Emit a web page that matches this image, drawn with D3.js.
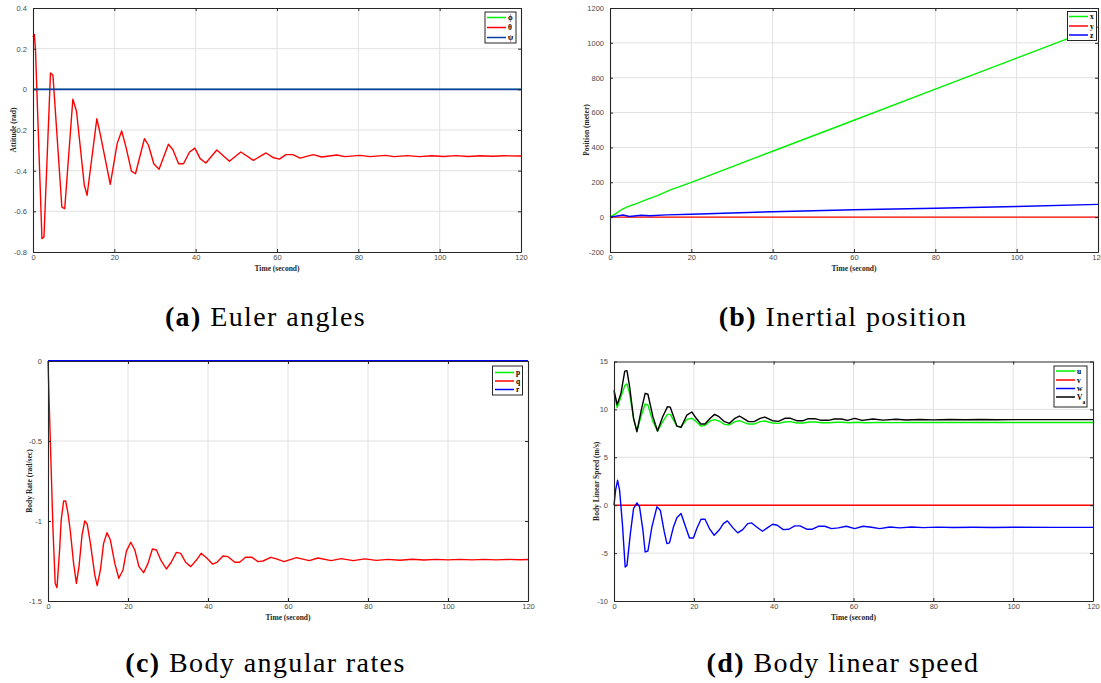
<!DOCTYPE html>
<html>
<head>
<meta charset="utf-8">
<script src="https://cdn.jsdelivr.net/npm/d3@7"></script>
<style>
  body { margin: 0; background: #fff; }
  svg { display: block; }
  .serif { font-family: "Liberation Serif", "DejaVu Serif", serif; }
  .sans { font-family: "Liberation Sans", "DejaVu Sans", sans-serif; }
</style>
</head>
<body>
<svg id="fig" width="1101" height="683"></svg>
<script>
// ---- shared time axis ----
const xTicks = [0, 20, 40, 60, 80, 100, 120];
const xTickLabels = ["0", "20", "40", "60", "80", "100", "120"];

// ---- (a) Euler angles: [time, rad] ----
const attitudeTicks = [-0.8, -0.6, -0.4, -0.2, 0, 0.2, 0.4];
const attitudeTickLabels = ["-0.8", "-0.6", "-0.4", "-0.2", "0", "0.2", "0.4"];
const phiPoints = [[0, 0], [120, 0]];
const psiPoints = [[0, 0], [120, 0]];
const thetaPoints = [
  [0, 0.257], [0.33, 0.27], [0.6, 0.2], [2.2, -0.734], [2.7, -0.726], [4.3, 0.08], [4.9, 0.069],
  [7.1, -0.579], [7.8, -0.587], [9.8, -0.049], [10.7, -0.108], [12.6, -0.469], [13.3, -0.521],
  [15.7, -0.144], [16.6, -0.226], [19.0, -0.467], [20.7, -0.267], [21.8, -0.205], [22.9, -0.287],
  [24.2, -0.402], [25.2, -0.415], [27.4, -0.243], [28.4, -0.275], [29.7, -0.366], [31.0, -0.393],
  [33.3, -0.270], [34.4, -0.297], [35.8, -0.366], [37.0, -0.366], [38.5, -0.308], [39.8, -0.289],
  [41.1, -0.341], [42.5, -0.362], [45.2, -0.298], [48.3, -0.354], [51.1, -0.308], [54.2, -0.349],
  [57.3, -0.313], [59.0, -0.335], [60.6, -0.343], [62.2, -0.321], [63.9, -0.321], [65.7, -0.338],
  [68.9, -0.321], [71.0, -0.333], [74.7, -0.323], [76.7, -0.331], [80.4, -0.325], [82.9, -0.331],
  [86.6, -0.325], [88.8, -0.331], [92, -0.326], [95, -0.331], [98, -0.327], [101, -0.330],
  [104, -0.326], [107, -0.330], [110, -0.327], [113, -0.329], [116, -0.327], [120, -0.328]
];

// ---- (b) Inertial position: [time, meter] ----
const positionTicks = [-200, 0, 200, 400, 600, 800, 1000, 1200];
const positionTickLabels = ["-200", "0", "200", "400", "600", "800", "1000", "1200"];
const posXPoints = [
  [0, 0], [1.6, 23], [3.2, 48], [4.4, 60], [6.5, 78], [9.3, 103], [11.8, 125], [14.7, 155],
  [20, 199], [40, 378], [60, 556], [80, 734], [100, 912], [120, 1090]
];
const posYPoints = [[0, 0], [120, 0]];
const posZPoints = [
  [0, 0], [3.2, 12], [4.8, 4], [7.7, 11], [9.8, 8], [13.9, 13], [20, 17], [40, 31],
  [60, 42], [80, 51], [100, 61], [120, 73]
];

// ---- (c) Body angular rates: [time, rad/sec] ----
const rateTicks = [-1.5, -1, -0.5, 0];
const rateTickLabels = ["-1.5", "-1", "-0.5", "0"];
const pPoints = [[0, 0], [120, 0]];
const rPoints = [[0, 0], [120, 0]];
const qPoints = [
  [0, 0], [0.4, -0.35], [1.25, -1.056], [1.8, -1.39], [2.25, -1.417], [2.9, -1.18], [3.3, -0.994],
  [3.9, -0.875], [4.4, -0.875], [5.0, -0.952], [5.6, -1.067], [6.4, -1.265], [7.1, -1.39],
  [7.75, -1.285], [8.5, -1.088], [9.2, -1.0], [9.8, -1.02], [10.6, -1.14], [11.7, -1.337],
  [12.3, -1.404], [13.1, -1.306], [13.9, -1.14], [14.75, -1.073], [15.6, -1.119], [16.7, -1.265],
  [17.7, -1.358], [18.75, -1.306], [19.6, -1.188], [20.7, -1.133], [21.7, -1.181], [22.75, -1.285],
  [23.9, -1.323], [25, -1.265], [26.1, -1.175], [27.1, -1.181], [28.2, -1.244], [29.6, -1.3],
  [30.8, -1.258], [32.1, -1.196], [33.2, -1.202], [34.4, -1.258], [35.7, -1.285], [37.1, -1.244],
  [38.3, -1.202], [39.75, -1.233], [41.1, -1.269], [42.25, -1.258], [43.75, -1.219], [45, -1.223],
  [46.7, -1.258], [47.9, -1.258], [49.4, -1.227], [51, -1.227], [52.5, -1.254], [53.75, -1.25],
  [55.7, -1.227], [57.1, -1.237], [59, -1.254], [62.1, -1.229], [65.3, -1.248], [67.5, -1.231],
  [70.8, -1.248], [73.3, -1.235], [76.3, -1.248], [79.2, -1.237], [82.1, -1.246], [85, -1.24],
  [88, -1.245], [91, -1.239], [94, -1.244], [97, -1.240], [100, -1.243], [103, -1.240],
  [106, -1.243], [109, -1.240], [112, -1.243], [115, -1.240], [118, -1.242], [120, -1.241]
];

// ---- (d) Body linear speed: [time, m/s] ----
const speedTicks = [-10, -5, 0, 5, 10, 15];
const speedTickLabels = ["-10", "-5", "0", "5", "10", "15"];
const uPoints = [
  [0, 11.75], [0.8, 10.2], [1.75, 11.33], [2.7, 12.48], [3.25, 12.66], [3.9, 11.68], [4.9, 9.07],
  [5.75, 7.74], [6.75, 9.24], [7.8, 10.56], [8.5, 10.46], [9.75, 8.72], [10.9, 7.74], [12.2, 8.72],
  [13.4, 9.48], [14.1, 9.48], [15.75, 8.26], [16.8, 8.19], [18.25, 8.96], [19.5, 9.07], [20.6, 8.72],
  [21.75, 8.26], [22.8, 8.33], [24.1, 8.79], [25.2, 8.93], [26.3, 8.79], [27.7, 8.44], [28.9, 8.37],
  [30.3, 8.72], [31.4, 8.82], [32.4, 8.68], [33.7, 8.47], [35.1, 8.47], [36.6, 8.72], [37.8, 8.79],
  [39.7, 8.58], [41.2, 8.54], [42.8, 8.68], [44.25, 8.72], [45.75, 8.58], [47.4, 8.58], [49, 8.68],
  [50.5, 8.68], [52, 8.6], [54, 8.6], [55.5, 8.66], [57, 8.66], [59, 8.6], [61, 8.66], [63, 8.6],
  [66, 8.64], [70, 8.62], [75, 8.64], [80, 8.63], [90, 8.64], [100, 8.63], [110, 8.64], [120, 8.63]
];
const vPoints = [[0, 0], [120, 0]];
const wPoints = [
  [0, 0], [0.4, 1.57], [0.9, 2.6], [1.4, 1.57], [2.1, -1.92], [2.8, -6.45], [3.25, -6.28],
  [4.1, -2.96], [4.9, -0.35], [5.75, 0.24], [6.4, -0.17], [7.25, -2.62], [7.8, -4.88], [8.5, -4.78],
  [9.5, -2.27], [10.75, -0.17], [11.6, -0.52], [12.6, -2.79], [13.25, -4.01], [13.9, -3.94],
  [14.9, -2.27], [15.75, -1.32], [16.8, -0.87], [17.8, -2.09], [18.9, -3.42], [19.9, -3.42],
  [20.75, -2.44], [21.8, -1.46], [22.8, -1.46], [23.9, -2.44], [25.1, -3.14], [26.3, -2.62],
  [27.4, -1.92], [28.4, -1.64], [29.75, -2.34], [31, -2.89], [32.25, -2.55], [33.5, -1.92],
  [34.5, -1.85], [35.75, -2.27], [37.2, -2.72], [38.4, -2.37], [39.75, -1.99], [40.9, -2.09],
  [42.4, -2.55], [43.8, -2.51], [45.3, -2.16], [46.6, -2.16], [48.25, -2.51], [49.7, -2.51],
  [51.2, -2.2], [52.8, -2.2], [54.5, -2.44], [56.2, -2.37], [58.2, -2.2], [60.3, -2.44],
  [62.4, -2.2], [64.5, -2.3], [66.6, -2.44], [69.1, -2.27], [71.6, -2.37], [74.5, -2.28],
  [77.5, -2.34], [81, -2.29], [85, -2.32], [90, -2.3], [95, -2.32], [100, -2.3], [110, -2.31],
  [120, -2.31]
];
const vaPoints = [
  [0, 12.0], [0.8, 10.5], [1.75, 11.7], [2.7, 14.0], [3.25, 14.05], [3.9, 12.4], [4.9, 9.07],
  [5.75, 7.67], [6.75, 9.76], [7.8, 11.68], [8.5, 11.58], [9.75, 9.24], [10.9, 7.74], [12.2, 9.24],
  [13.4, 10.29], [14.1, 10.22], [15.75, 8.26], [16.8, 8.12], [18.25, 9.41], [19.5, 9.73],
  [20.6, 9.07], [21.75, 8.47], [22.8, 8.47], [24.1, 9.07], [25.2, 9.48], [26.3, 9.24], [27.7, 8.72],
  [28.9, 8.54], [30.3, 9.07], [31.4, 9.31], [32.4, 9.07], [33.7, 8.72], [35.1, 8.72], [36.6, 9.07],
  [37.8, 9.2], [39.7, 8.82], [41.2, 8.75], [42.8, 9.07], [44.25, 9.07], [45.75, 8.82], [47.4, 8.82],
  [48.7, 9.03], [50.3, 9.03], [52, 8.86], [53.7, 8.86], [55.2, 9.0], [57, 9.0], [58.5, 8.86],
  [60.3, 9.07], [62.2, 8.86], [64.9, 9.0], [67.4, 8.88], [70.7, 8.97], [73.2, 8.9], [76.6, 8.95],
  [80, 8.91], [84, 8.94], [88, 8.92], [92, 8.94], [96, 8.92], [100, 8.93], [110, 8.93], [120, 8.93]
];

// ---- colours ----
const GREEN = "#00f000", RED = "#ff0000", BLUE = "#0000ff", NAVY = "#0b3ca8", BLACK = "#000000";

const svg = d3.select("#fig");

const panels = [
  {
    frame: { left: 33, right: 521, top: 8, bottom: 252 },
    yDomain: [-0.8, 0.4], yTicks: attitudeTicks, yTickLabels: attitudeTickLabels,
    yTitle: "Attitude (rad)", yTitleX: 13,
    series: [
      { name: "\u03d5", points: phiPoints, color: GREEN },
      { name: "\u03b8", points: thetaPoints, color: RED },
      { name: "\u03c8", points: psiPoints, color: NAVY, width: 1.8 }
    ],
    legend: { x: 485, y: 12, w: 31, h: 31, rows: [17.5, 27.5, 37.5], x1: 487, x2: 506, tx: 508 },
    caption: { tag: "(a)", text: " Euler angles", cx: 265.5, y: 326 }
  },
  {
    frame: { left: 610, right: 1098, top: 8, bottom: 252 },
    yDomain: [-200, 1200], yTicks: positionTicks, yTickLabels: positionTickLabels,
    yTitle: "Position (meter)", yTitleX: 586,
    series: [
      { name: "x", points: posXPoints, color: GREEN },
      { name: "y", points: posYPoints, color: RED },
      { name: "z", points: posZPoints, color: BLUE }
    ],
    legend: { x: 1067.5, y: 11.5, w: 29, h: 29, rows: [16.5, 26, 35], x1: 1069, x2: 1088, tx: 1090 },
    caption: { tag: "(b)", text: " Inertial position", cx: 843, y: 326 }
  },
  {
    frame: { left: 48, right: 528, top: 361, bottom: 601 },
    yDomain: [-1.5, 0], yTicks: rateTicks, yTickLabels: rateTickLabels,
    yTitle: "Body Rate (rad/sec)", yTitleX: 29,
    series: [
      { name: "p", points: pPoints, color: GREEN },
      { name: "q", points: qPoints, color: RED },
      { name: "r", points: rPoints, color: BLUE, width: 1.8 }
    ],
    legend: { x: 492.5, y: 366, w: 30, h: 29, rows: [372.5, 381, 389.5], x1: 495, x2: 514, tx: 516 },
    caption: { tag: "(c)", text: " Body angular rates", cx: 265.5, y: 672 }
  },
  {
    frame: { left: 614, right: 1093, top: 361.5, bottom: 601 },
    yDomain: [-10, 15], yTicks: speedTicks, yTickLabels: speedTickLabels,
    yTitle: "Body Linear Speed (m/s)", yTitleX: 596,
    series: [
      { name: "u", points: uPoints, color: GREEN },
      { name: "v", points: vPoints, color: RED },
      { name: "w", points: wPoints, color: BLUE },
      { name: "V", sub: "a", points: vaPoints, color: BLACK }
    ],
    legend: { x: 1054, y: 366, w: 33, h: 41, rows: [371, 380, 388.5, 397], x1: 1056, x2: 1075, tx: 1077 },
    caption: { tag: "(d)", text: " Body linear speed", cx: 843, y: 672 }
  }
];

const AXIS_COLOR = "#262626";

function styleAxis(sel) {
  sel.attr("font-family", null).attr("font-size", null).classed("sans", true)
    .style("font-size", "7.5px");
  sel.select(".domain").attr("stroke", AXIS_COLOR).attr("stroke-width", 1.1);
  sel.selectAll(".tick line").attr("stroke", AXIS_COLOR).attr("stroke-width", 1);
  sel.selectAll(".tick text").attr("fill", "#4a4a4a");
}

function drawPanel(cfg) {
  const f = cfg.frame;
  const x = d3.scaleLinear().domain([0, 120]).range([f.left, f.right]);
  const y = d3.scaleLinear().domain(cfg.yDomain).range([f.bottom, f.top]);
  const g = svg.append("g");

  // grid lines
  const grid = g.append("g").attr("stroke", "#e1e1e1").attr("stroke-width", 1);
  grid.selectAll("line.gx").data(xTicks.filter(d => d > 0 && d < 120)).join("line")
    .attr("x1", d => x(d)).attr("x2", d => x(d)).attr("y1", f.top).attr("y2", f.bottom);
  grid.selectAll("line.gy").data(cfg.yTicks.filter(d => d > cfg.yDomain[0] && d < cfg.yDomain[1])).join("line")
    .attr("x1", f.left).attr("x2", f.right).attr("y1", d => y(d)).attr("y2", d => y(d));

  // series
  const line = d3.line().x(d => x(d[0])).y(d => y(d[1]));
  cfg.series.forEach(s => {
    g.append("path").attr("d", line(s.points)).attr("fill", "none")
      .attr("stroke", s.color).attr("stroke-width", s.width || 1.4)
      .attr("stroke-linejoin", "round");
  });

  // axes with inward ticks on all four sides
  const fmtX = (d, i) => xTickLabels[i];
  const fmtY = (d, i) => cfg.yTickLabels[i];
  g.append("g").attr("transform", `translate(0,${f.bottom})`)
    .call(d3.axisBottom(x).tickValues(xTicks).tickFormat(fmtX).tickSizeInner(-3).tickSizeOuter(0).tickPadding(3))
    .call(styleAxis);
  g.append("g").attr("transform", `translate(0,${f.top})`)
    .call(d3.axisTop(x).tickValues(xTicks).tickFormat(() => "").tickSizeInner(-3).tickSizeOuter(0))
    .call(styleAxis);
  g.append("g").attr("transform", `translate(${f.left},0)`)
    .call(d3.axisLeft(y).tickValues(cfg.yTicks).tickFormat(fmtY).tickSizeInner(-3).tickSizeOuter(0).tickPadding(6))
    .call(styleAxis);
  g.append("g").attr("transform", `translate(${f.right},0)`)
    .call(d3.axisRight(y).tickValues(cfg.yTicks).tickFormat(() => "").tickSizeInner(-3).tickSizeOuter(0))
    .call(styleAxis);

  // axis titles
  g.append("text").attr("class", "serif").attr("x", (f.left + f.right) / 2).attr("y", f.bottom + 18.5)
    .attr("text-anchor", "middle").style("font-weight", "bold")
    .style("font-size", "7.5px").attr("fill", AXIS_COLOR).text("Time (second)");
  g.append("text").attr("class", "serif")
    .attr("transform", `translate(${cfg.yTitleX + 2.5},${(f.top + f.bottom) / 2}) rotate(-90)`)
    .attr("text-anchor", "middle").style("font-weight", "bold")
    .style("font-size", "7.5px").attr("fill", AXIS_COLOR).text(cfg.yTitle);

  // legend
  const L = cfg.legend;
  const lg = g.append("g");
  lg.append("rect").attr("x", L.x).attr("y", L.y).attr("width", L.w).attr("height", L.h)
    .attr("fill", "#fff").attr("stroke", AXIS_COLOR).attr("stroke-width", 1);
  cfg.series.forEach((s, i) => {
    const ry = L.rows[i];
    lg.append("line").attr("x1", L.x1).attr("x2", L.x2).attr("y1", ry).attr("y2", ry)
      .attr("stroke", s.color).attr("stroke-width", 1.5);
    const t = lg.append("text").attr("class", "serif").attr("x", L.tx).attr("y", ry + 2.5)
      .style("font-weight", "bold").style("font-size", "7.5px")
      .attr("fill", "#000").text(s.name);
    if (s.sub) {
      t.append("tspan").attr("dy", 4).style("font-size", "5.5px").text(s.sub);
    }
  });

  // caption
  const c = cfg.caption;
  const cap = svg.append("text").attr("class", "serif").attr("x", c.cx).attr("y", c.y)
    .attr("text-anchor", "middle").style("font-size", "28px").attr("fill", "#000")
    .style("letter-spacing", "1.4px");
  cap.append("tspan").style("font-weight", "bold").text(c.tag);
  cap.append("tspan").text(c.text);
}

panels.forEach(drawPanel);
</script>
</body>
</html>
